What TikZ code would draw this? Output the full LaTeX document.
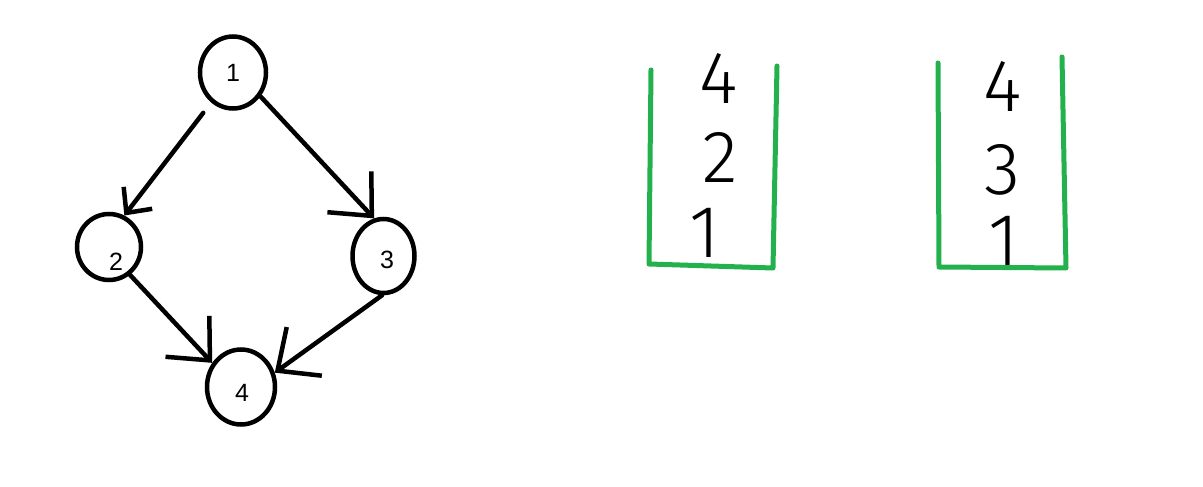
\documentclass[tikz,border=0pt]{standalone}
\usepackage{fontspec}
\setmainfont{Liberation Sans}
\newfontfamily\thinfont[UprightFont={* Light}]{Fira Sans}
\usetikzlibrary{arrows.meta,shapes.geometric}
\definecolor{stackgreen}{RGB}{34,177,76}
\begin{document}
\begin{tikzpicture}[x=1pt,y=-1pt,
  vertex/.style={ellipse,draw,line width=4.5pt,inner sep=0pt},
  vlabel/.style={font=\fontsize{25}{25}\selectfont,inner sep=0pt},
  edge/.style={line width=4.5pt,line cap=round,-{Straight Barb[length=33pt,width=60pt,line width=4.5pt]}},
  smalltip/.style={-{Straight Barb[length=19pt,width=36pt,line width=4.5pt]}},
  wall/.style={draw=stackgreen,line width=5pt,line join=round,line cap=round},
  digit/.style={font=\thinfont\fontsize{74}{74}\selectfont,inner sep=0pt}]
\useasboundingbox[fill=white] (0,0) rectangle (1203,487);
% graph
\node[vertex,minimum width=66pt,minimum height=72pt,label={[vlabel]center:1}] (n1) at (233,72.5) {};
\node[vertex,minimum width=64pt,minimum height=66pt,label={[vlabel,shift={(7pt,-15pt)}]center:2}] (n2) at (109,247) {};
\node[vertex,minimum width=62pt,minimum height=74pt,label={[vlabel,shift={(3.5pt,-4pt)}]center:3}] (n3) at (383.5,256) {};
\node[vertex,minimum width=68pt,minimum height=75pt,label={[vlabel,shift={(1pt,-6pt)}]center:4}] (n4) at (241,387) {};
\draw[edge,smalltip,shorten <=13pt] (n1.234) -- (n2.64);
\draw[edge] (n1.-41) -- (n3.104);
\draw[edge] (n2.-53) -- (n4.140);
\draw[edge] (n3.-92) -- (n4.23);
% first stack
\coordinate (a1) at (651,70);
\coordinate (a2) at (649,264);
\coordinate (a3) at (773,268);
\coordinate (a4) at (777,66);
\draw[wall] (a1) -- (a2) -- (a3) -- (a4);
\node[digit] (s1a) at (719,78) {4};
\node[digit] (s1b) at (720,157) {2};
\node[digit] (s1c) at (705,233) {1};
% second stack
\coordinate (b1) at (938,63);
\coordinate (b2) at (939,267);
\coordinate (b3) at (1066,268);
\coordinate (b4) at (1062,57);
\draw[wall] (b1) -- (b2) -- (b3) -- (b4);
\node[digit] (s2a) at (1003,86) {4};
\node[digit] (s2b) at (1002,170) {3};
\node[digit] (s2c) at (1004,241) {1};
\end{tikzpicture}
\end{document}
